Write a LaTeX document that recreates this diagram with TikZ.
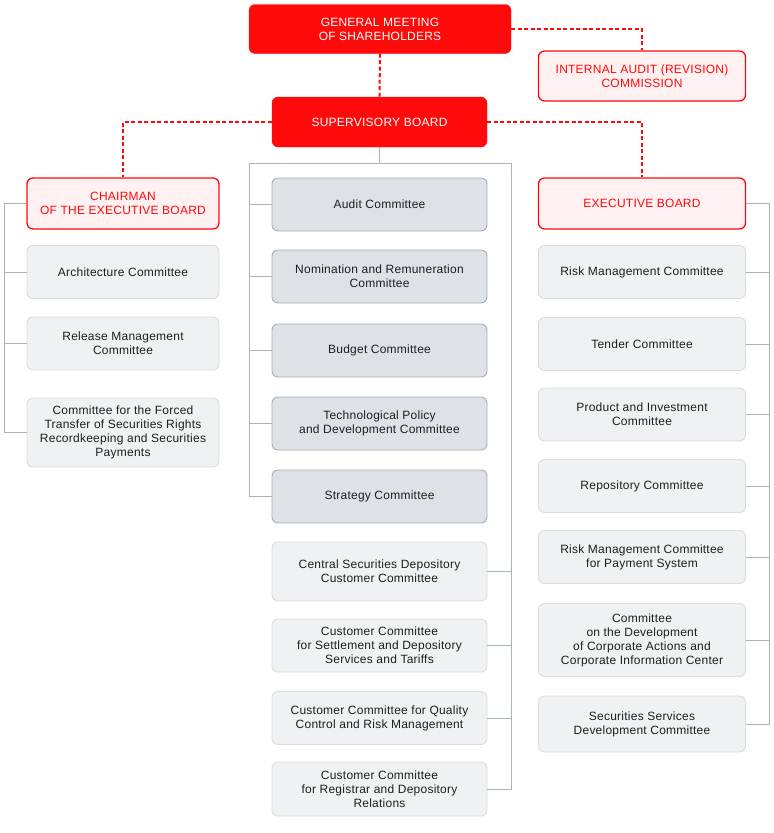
\documentclass[tikz,border=0pt]{standalone}
\usepackage{fontspec}
\setmainfont[LetterSpace=2]{Liberation Sans}
\definecolor{brandred}{HTML}{FF0A0A}
\definecolor{pinkfill}{HTML}{FFF1F1}
\definecolor{boardgray}{HTML}{DEE2E6}
\definecolor{boardline}{HTML}{A4AEB8}
\definecolor{paler}{HTML}{F0F1F3}
\definecolor{paleline}{HTML}{D9DDE2}
\definecolor{treeline}{HTML}{A9B3BD}
\definecolor{textdark}{HTML}{1E1E1E}

\begin{document}
\begin{tikzpicture}[x=1pt,y=-1pt,
    box/.style={rounded corners=6pt, align=center, inner sep=0pt, text=textdark,
        font=\fontsize{12}{14}\selectfont},
    headbox/.style={box, fill=brandred, draw=brandred, text=white},
    redbox/.style={box, fill=pinkfill, draw=brandred, line width=1.3pt, text=brandred},
    boardbox/.style={box, fill=boardgray, draw=boardline, line width=0.9pt,
        minimum width=215pt, minimum height=53pt},
    combox/.style={box, fill=paler, draw=paleline, line width=0.9pt},
    link/.style={brandred, line width=2pt, dash pattern=on 4pt off 2.5pt},
    tree/.style={treeline, line width=1pt}]
    \useasboundingbox (0,0) rectangle (774,833);
    \node[headbox, minimum width=262pt, minimum height=49pt] (gm) at (380,29) {GENERAL MEETING\\OF SHAREHOLDERS};
    \node[redbox, minimum width=207pt, minimum height=50pt] (audit) at (642,76) {INTERNAL AUDIT (REVISION)\\COMMISSION};
    \node[headbox, minimum width=215pt, minimum height=50pt] (sb) at (379.5,122) {SUPERVISORY BOARD};
    \node[redbox, minimum width=192pt, minimum height=51pt] (chair) at (123,203.5) {CHAIRMAN\\OF THE EXECUTIVE BOARD};
    \node[redbox, minimum width=207pt, minimum height=51pt] (exec) at (642,203.5) {EXECUTIVE BOARD};

    \node[boardbox] (auditc) at (379.5,204.5) {Audit Committee};
    \node[boardbox] (nomin) at (379.5,276.5) {Nomination and Remuneration\\Committee};
    \node[boardbox] (budget) at (379.5,350.5) {Budget Committee};
    \node[boardbox] (techpol) at (379.5,423.5) {Technological Policy\\and Development Committee};
    \node[boardbox] (strategy) at (379.5,496.5) {Strategy Committee};

    \node[combox, minimum width=215pt, minimum height=59pt] (csd) at (379.5,571.5) {Central Securities Depository\\Customer Committee};
    \node[combox, minimum width=215pt, minimum height=53pt] (settle) at (379.5,645.5) {Customer Committee\\for Settlement and Depository\\Services and Tariffs};
    \node[combox, minimum width=215pt, minimum height=53pt] (quality) at (379.5,718) {Customer Committee for Quality\\Control and Risk Management};
    \node[combox, minimum width=215pt, minimum height=54pt] (registrar) at (379.5,789) {Customer Committee\\for Registrar and Depository\\Relations};

    \node[combox, minimum width=192pt, minimum height=53pt] (arch) at (123,272) {Architecture Committee};
    \node[combox, minimum width=192pt, minimum height=53pt] (release) at (123,343.5) {Release Management\\Committee};
    \node[combox, minimum width=192pt, minimum height=69pt] (forced) at (123,432.5) {Committee for the Forced\\Transfer of Securities Rights\\Recordkeeping and Securities\\Payments};

    \node[combox, minimum width=207pt, minimum height=53pt] (riskmgmt) at (642,272) {Risk Management Committee};
    \node[combox, minimum width=207pt, minimum height=53pt] (tender) at (642,344) {Tender Committee};
    \node[combox, minimum width=207pt, minimum height=53pt] (product) at (642,414.5) {Product and Investment\\Committee};
    \node[combox, minimum width=207pt, minimum height=53pt] (repo) at (642,486) {Repository Committee};
    \node[combox, minimum width=207pt, minimum height=53pt] (riskpay) at (642,557) {Risk Management Committee\\for Payment System};
    \node[combox, minimum width=207pt, minimum height=73pt] (corpact) at (642,640) {Committee\\on the Development\\of Corporate Actions and\\Corporate Information Center};
    \node[combox, minimum width=207pt, minimum height=56pt] (secserv) at (642,724) {Securities Services\\Development Committee};

    \draw[link] (gm.east) -| (audit.north);
    \draw[link] (gm.south) -- (sb.north);
    \draw[link] (sb.west) -| (chair.north);
    \draw[link] (sb.east) -| (exec.north);

    \coordinate (midleft) at (249,163);
    \coordinate (midright) at (511,163);
    \coordinate (leftbus) at (4,203.5);
    \coordinate (rightbus) at (769.5,203.5);

    \draw[tree] (sb.south) |- (midleft) |- (strategy.west);
    \draw[tree] (sb.south) |- (midright) |- (registrar.east);
    \draw[tree] (auditc.west) -- (auditc.west -| midleft);
    \draw[tree] (nomin.west) -- (nomin.west -| midleft);
    \draw[tree] (budget.west) -- (budget.west -| midleft);
    \draw[tree] (techpol.west) -- (techpol.west -| midleft);
    \draw[tree] (csd.east) -- (csd.east -| midright);
    \draw[tree] (settle.east) -- (settle.east -| midright);
    \draw[tree] (quality.east) -- (quality.east -| midright);

    \draw[tree] (chair.west) -- (leftbus) |- (forced.west);
    \draw[tree] (arch.west) -- (arch.west -| leftbus);
    \draw[tree] (release.west) -- (release.west -| leftbus);

    \draw[tree] (exec.east) -- (rightbus) |- (secserv.east);
    \draw[tree] (riskmgmt.east) -- (riskmgmt.east -| rightbus);
    \draw[tree] (tender.east) -- (tender.east -| rightbus);
    \draw[tree] (product.east) -- (product.east -| rightbus);
    \draw[tree] (repo.east) -- (repo.east -| rightbus);
    \draw[tree] (riskpay.east) -- (riskpay.east -| rightbus);
    \draw[tree] (corpact.east) -- (corpact.east -| rightbus);
\end{tikzpicture}
\end{document}
